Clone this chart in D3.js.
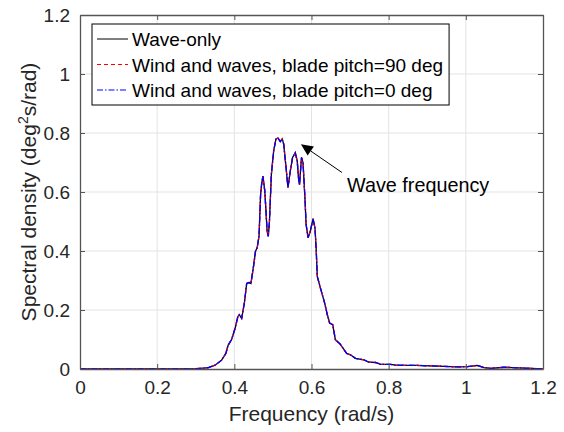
<!DOCTYPE html>
<html><head><meta charset="utf-8">
<script src="https://cdn.jsdelivr.net/npm/d3@7"></script>
<style>body{margin:0;background:#fff}svg{display:block}text{font-family:"Liberation Sans",Arial,sans-serif}</style>
</head><body><svg id="c" width="564" height="432"></svg>
<script>
const freq = [0,0.1,0.2,0.28,0.30,0.32,0.333,0.350,0.367,0.378,0.384,0.393,0.402,0.409,0.413,0.419,0.426,0.432,0.438,0.443,0.449,0.455,0.459,0.464,0.468,0.471,0.474,0.479,0.485,0.488,0.491,0.496,0.502,0.508,0.513,0.519,0.524,0.528,0.534,0.539,0.545,0.551,0.558,0.563,0.567,0.569,0.574,0.578,0.583,0.586,0.591,0.597,0.604,0.609,0.612,0.615,0.623,0.634,0.641,0.647,0.655,0.662,0.674,0.682,0.691,0.701,0.714,0.736,0.749,0.766,0.779,0.805,0.818,0.874,0.926,0.978,1.004,1.030,1.047,1.065,1.099,1.134,1.186,1.2];
const waveOnly = [0,0,0,0,0.001,0.003,0.005,0.013,0.030,0.053,0.081,0.100,0.138,0.177,0.184,0.172,0.223,0.290,0.293,0.290,0.341,0.400,0.410,0.450,0.590,0.630,0.654,0.603,0.467,0.450,0.500,0.660,0.740,0.780,0.783,0.771,0.780,0.762,0.683,0.615,0.671,0.717,0.733,0.705,0.637,0.625,0.717,0.700,0.580,0.490,0.445,0.467,0.510,0.478,0.410,0.314,0.275,0.224,0.184,0.156,0.150,0.099,0.085,0.070,0.053,0.048,0.036,0.031,0.023,0.022,0.016,0.016,0.013,0.012,0.010,0.007,0.008,0.012,0.005,0.002,0.006,0.004,0.001,0.001];
const windPitch90 = [0,0,0,0,0.001,0.003,0.005,0.013,0.030,0.053,0.081,0.100,0.138,0.177,0.184,0.172,0.223,0.290,0.293,0.290,0.341,0.400,0.410,0.450,0.590,0.630,0.654,0.603,0.467,0.450,0.500,0.660,0.740,0.780,0.783,0.771,0.780,0.762,0.683,0.615,0.671,0.717,0.733,0.705,0.637,0.625,0.717,0.700,0.580,0.490,0.445,0.467,0.510,0.478,0.410,0.314,0.275,0.224,0.184,0.156,0.150,0.099,0.085,0.070,0.053,0.048,0.036,0.031,0.023,0.022,0.016,0.016,0.013,0.012,0.010,0.007,0.008,0.012,0.005,0.002,0.006,0.004,0.001,0.001];
const windPitch0 = [0,0,0,0,0.001,0.003,0.005,0.013,0.030,0.053,0.081,0.100,0.138,0.177,0.184,0.172,0.223,0.290,0.293,0.290,0.341,0.400,0.410,0.450,0.590,0.630,0.654,0.603,0.467,0.450,0.500,0.660,0.740,0.780,0.783,0.771,0.780,0.762,0.683,0.615,0.671,0.717,0.733,0.705,0.637,0.625,0.717,0.700,0.580,0.490,0.445,0.467,0.510,0.478,0.410,0.314,0.275,0.224,0.184,0.156,0.150,0.099,0.085,0.070,0.053,0.048,0.036,0.031,0.023,0.022,0.016,0.016,0.013,0.012,0.010,0.007,0.008,0.012,0.005,0.002,0.006,0.004,0.001,0.001];
const seriesNames = ["Wave-only","Wind and waves, blade pitch=90 deg","Wind and waves, blade pitch=0 deg"];
const xTicks = [0,0.2,0.4,0.6,0.8,1,1.2];
const yTicks = [0,0.2,0.4,0.6,0.8,1,1.2];

const svg = d3.select("#c");
const L=80,R=543,T=15,B=369;
const x = d3.scaleLinear().domain([0,1.2]).range([L,R]);
const y = d3.scaleLinear().domain([0,1.2]).range([B,T]);
const axisCol="#262626";

// grid
const g = svg.append("g");
g.selectAll(".gx").data(xTicks.slice(1,-1)).enter().append("line")
  .attr("x1",d=>x(d)).attr("x2",d=>x(d)).attr("y1",T).attr("y2",B)
  .attr("stroke","#e3e3e3").attr("stroke-width",1);
g.selectAll(".gy").data(yTicks.slice(1,-1)).enter().append("line")
  .attr("y1",d=>y(d)).attr("y2",d=>y(d)).attr("x1",L).attr("x2",R)
  .attr("stroke","#e3e3e3").attr("stroke-width",1);

// lines
const styles = [
  {data:waveOnly,color:"#000000",dash:null},
  {data:windPitch90,color:"#ff0000",dash:"4,3"},
  {data:windPitch0,color:"#0000ff",dash:"6,2,1.5,2"}
];
const line = d3.line().x((d,i)=>x(freq[i])).y(d=>y(d));
styles.forEach(s=>{
  svg.append("path").datum(s.data).attr("d",line).attr("fill","none")
    .attr("stroke",s.color).attr("stroke-width",1.3)
    .attr("stroke-dasharray",s.dash);
});

// axes
const ax = svg.append("g").attr("transform",`translate(0,${B})`)
  .call(d3.axisBottom(x).tickValues(xTicks).tickFormat(d3.format("")).tickSizeInner(-5).tickSizeOuter(0).tickPadding(12));
const axTop = svg.append("g").attr("transform",`translate(0,${T})`)
  .call(d3.axisTop(x).tickValues(xTicks).tickFormat("").tickSizeInner(-5).tickSizeOuter(0));
const ay = svg.append("g").attr("transform",`translate(${L},0)`)
  .call(d3.axisLeft(y).tickValues(yTicks).tickFormat(d3.format("")).tickSizeInner(-5).tickSizeOuter(0).tickPadding(10));
const ayR = svg.append("g").attr("transform",`translate(${R},0)`)
  .call(d3.axisRight(y).tickValues(yTicks).tickFormat("").tickSizeInner(-5).tickSizeOuter(0));
[ax,axTop,ay,ayR].forEach(a=>{
  a.select(".domain").attr("stroke","#555").attr("stroke-width",1.3);
  a.selectAll(".tick line").attr("stroke","#555");
  a.selectAll("text").attr("fill",axisCol).style("font-size","19px").style("font-family","Liberation Sans, Arial, sans-serif");
});

// axis labels
svg.append("text").attr("x",(L+R)/2).attr("y",421).attr("text-anchor","middle")
  .style("font-size","21px").attr("fill",axisCol).text("Frequency (rad/s)");
const yl = svg.append("text").attr("transform",`translate(36,${(T+B)/2}) rotate(-90)`)
  .attr("text-anchor","middle").style("font-size","21px").attr("fill",axisCol);
yl.append("tspan").text("Spectral density (deg");
yl.append("tspan").attr("dy",-8).style("font-size","14px").text("2");
yl.append("tspan").attr("dy",8).text("s/rad)");

// annotation
const tip=[x(0.5725),y(0.762)], tail=[x(0.679),y(0.666)];
const ang=Math.atan2(tip[1]-tail[1],tip[0]-tail[0]);
const hl=12, hw=5.5;
const bx=tip[0]-hl*Math.cos(ang), by=tip[1]-hl*Math.sin(ang);
svg.append("line").attr("x1",tail[0]).attr("y1",tail[1]).attr("x2",bx).attr("y2",by)
  .attr("stroke","#000").attr("stroke-width",1);
svg.append("path").attr("d",`M${tip[0]},${tip[1]}L${bx+hw*Math.sin(ang)},${by-hw*Math.cos(ang)}L${bx-hw*Math.sin(ang)},${by+hw*Math.cos(ang)}Z`)
  .attr("fill","#000");
svg.append("text").attr("x",x(0.692)).attr("y",y(0.599)).style("font-size","19.8px").attr("fill","#000").text("Wave frequency");

// legend
const lg = svg.append("g");
const rows = seriesNames.map((n,i)=>({n,s:styles[i]}));
const lx=92, ly=24, rowH=25.5;
const box = lg.append("rect").attr("x",lx).attr("y",ly).attr("height",81).attr("fill","#fff").attr("stroke","#000").attr("stroke-width",1);
let maxW=0;
rows.forEach((r,i)=>{
  const cy = ly+15+i*rowH;
  lg.append("line").attr("x1",lx+5).attr("x2",lx+36).attr("y1",cy).attr("y2",cy)
    .attr("stroke",r.s.color).attr("stroke-width",1).attr("stroke-dasharray",r.s.dash);
  const t = lg.append("text").attr("x",lx+40).attr("y",cy+7).style("font-size","19px").attr("fill","#000").text(r.n);
  maxW=Math.max(maxW,t.node().getComputedTextLength());
});
box.attr("width",40+maxW+6);
</script></body></html>
